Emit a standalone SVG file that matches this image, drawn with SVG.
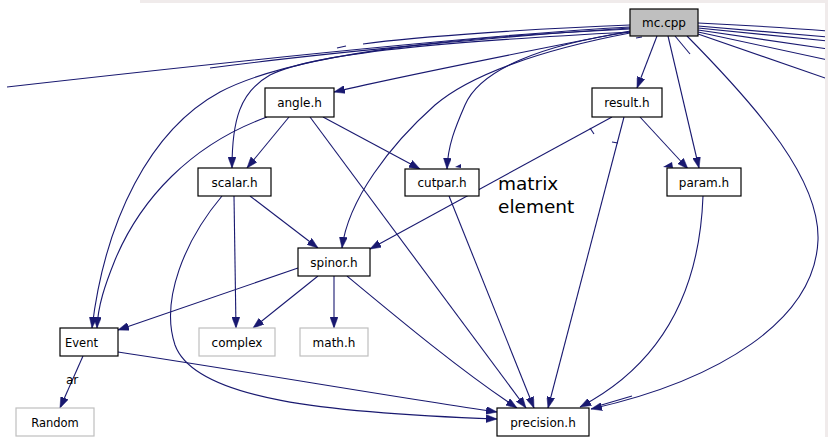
<svg xmlns="http://www.w3.org/2000/svg" width="828" height="437" viewBox="0 0 828 437">
<defs>
<style>
.n rect{fill:#ffffff;stroke:#000000;stroke-width:1.2}
.g rect{fill:#ffffff;stroke:#bfbfbf;stroke-width:1.2}
.root rect{fill:#bfbfbf;stroke:#000000;stroke-width:1.2}
text{font-family:"DejaVu Sans","Liberation Sans",sans-serif;font-size:12px;fill:#000000;text-anchor:middle}
.e path{fill:none;stroke:#191970;stroke-width:1.1}
.a{marker-end:url(#arr)}
</style>
<marker id="arr" viewBox="0 0 11 8" refX="11" refY="4" markerWidth="11" markerHeight="8" markerUnits="userSpaceOnUse" orient="auto">
<path d="M0,0 L11,4 L0,8 z" fill="#191970" stroke="#191970" stroke-width="0.5"/>
</marker>
</defs>
<rect x="0" y="0" width="828" height="437" fill="#ffffff"/>
<g id="connectors" class="e">
<path d="M630,27 C520,33 350,48 7,87"/>
<path d="M630,28 C520,35 330,52 210,68"/>
<path d="M630,25 C550,28 420,36 363,44"/>
<path d="M337,48 L346,46"/>
<path d="M698,23 C740,25 790,28 828,31"/>
<path d="M698,26 L828,37"/>
<path d="M698,28 L828,41"/>
<path d="M698,30 L828,49"/>
<path d="M698,32 L828,60"/>
<path d="M698,34 L828,79"/>
<path d="M675,36 L690,54"/>
<path d="M636,38 L642,37"/>
<path class="a" d="M657,36 L637,88"/>
<path class="a" d="M668,36 L699,168"/>
<path class="a" d="M630,31 C560,45 420,72 334,92"/>
<path class="a" d="M630,32 C480,40 320,50 270,75 C240,92 232,120 232,168"/>
<path class="a" d="M630,32 C540,45 480,70 465,105 C455,128 448,145 447,169"/>
<path class="a" d="M630,33 C540,50 470,75 435,105 C390,145 348,200 342,248"/>
<path class="a" d="M630,29 C480,36 300,50 220,92 C150,130 105,220 92,328"/>
<path class="a" d="M267,117 C190,145 140,200 115,260 C105,285 98,305 97,328"/>
<path class="a" d="M289,117 L247,168"/>
<path class="a" d="M323,117 L420,169"/>
<path class="a" d="M310,117 L526,408"/>
<path class="a" d="M250,196 L318,248"/>
<path class="a" d="M234,196 L236,328"/>
<path class="a" d="M222,196 C185,240 160,300 175,345 C195,400 330,413 497,419"/>
<path class="a" d="M449,196 L534,408"/>
<path class="a" d="M612,117 L370,249"/>
<path d="M590,128 L594,134"/>
<path class="a" d="M624,117 L548,408"/>
<path d="M612,142 L618,143"/>
<path class="a" d="M640,117 L688,169"/>
<path class="a" d="M298,268 L118,330"/>
<path class="a" d="M318,276 L253,328"/>
<path class="a" d="M334,276 L334,328"/>
<path class="a" d="M347,276 C400,320 460,370 517,408"/>
<path class="a" d="M83,356 L60,408"/>
<path class="a" d="M118,352 C250,372 400,398 497,412"/>
<path class="a" d="M703,196 C700,280 670,360 580,407"/>
<path class="a" d="M687,36 C760,110 820,180 818,240 C815,320 720,380 591,409"/>
<path d="M632,396 L598,406"/>
<polygon points="663,167 672,162 673,168" fill="#191970"/>
<polygon points="455,167 461,164 461,168" fill="#191970"/>
</g>
<rect x="140" y="0" width="688" height="3" fill="#f0ebeb"/>
<rect x="825" y="0" width="3" height="437" fill="#f0ebeb"/>
<g id="mc_cpp" class="root"><rect x="630" y="9" width="68" height="27"/><text x="664" y="27">mc.cpp</text></g>
<g id="angle_h" class="n"><rect x="265" y="88" width="69" height="29"/><text x="299.5" y="107">angle.h</text></g>
<g id="result_h" class="n"><rect x="592" y="88" width="70" height="29"/><text x="627" y="107">result.h</text></g>
<g id="scalar_h" class="n"><rect x="198" y="168" width="73" height="28"/><text x="234.5" y="187">scalar.h</text></g>
<g id="cutpar_h" class="n"><rect x="405" y="169" width="74" height="27"/><text x="442" y="187">cutpar.h</text></g>
<g id="param_h" class="n"><rect x="667" y="168" width="74" height="28"/><text x="704" y="187">param.h</text></g>
<g id="spinor_h" class="n"><rect x="298" y="248" width="72" height="28"/><text x="334" y="267">spinor.h</text></g>
<g id="Event" class="n"><rect x="60" y="328" width="58" height="28"/><text x="65" y="347" style="text-anchor:start;font-size:11.5px">Event</text></g>
<g id="complex" class="g"><rect x="199" y="328" width="76" height="28"/><text x="237" y="347">complex</text></g>
<g id="math_h" class="g"><rect x="300" y="328" width="68" height="28"/><text x="334" y="347">math.h</text></g>
<g id="Random" class="g"><rect x="16" y="408" width="78" height="28"/><text x="55" y="427" style="font-size:11.5px">Random</text></g>
<g id="precision_h" class="n"><rect x="497" y="408" width="92" height="28"/><text x="543" y="427">precision.h</text></g>
<g id="labels">
<text x="498" y="190" style="text-anchor:start;font-size:18.5px">matrix</text>
<text x="498" y="213" style="text-anchor:start;font-size:18.5px">element</text>
<text x="66" y="384" style="text-anchor:start;font-size:12px">ar</text>
</g>
</svg>
